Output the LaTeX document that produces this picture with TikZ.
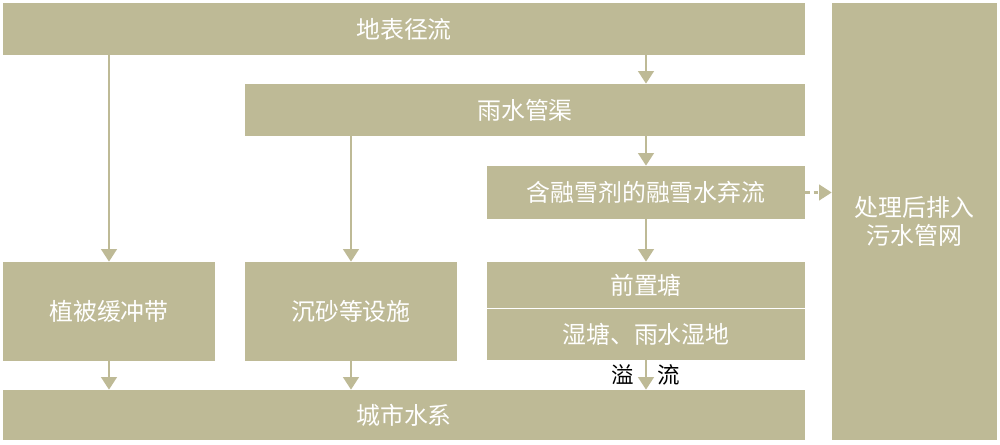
\documentclass[tikz,border=0pt]{standalone}
\usepackage{fontspec}
\setmainfont{Noto Sans CJK SC}
\usetikzlibrary{arrows.meta}
\definecolor{tan}{RGB}{190,186,150}
\tikzset{
  blk/.style={fill=tan,draw=none,text=white,font=\fontsize{17}{20}\selectfont,align=center},
  flow/.style={draw=tan,line width=2pt,-{Triangle[length=9pt,width=11pt]}}
}
\begin{document}
\begin{tikzpicture}[x=0.025cm,y=-0.025cm]
    \useasboundingbox (0,0) rectangle (1000,445);
    % boxes
    \node[blk,minimum width=802*0.025cm,minimum height=52*0.025cm] (runoff) at (404,29) {地表径流};
    \node[blk,minimum width=560*0.025cm,minimum height=52*0.025cm] (pipe) at (525,110) {雨水管渠};
    \node[blk,minimum width=318*0.025cm,minimum height=53*0.025cm] (melt) at (646,192.5) {含融雪剂的融雪水弃流};
    \node[blk,minimum width=165*0.025cm,minimum height=437*0.025cm] (sewer) at (914.5,221.5) {处理后排入\\污水管网};
    \node[blk,minimum width=212*0.025cm,minimum height=99*0.025cm] (buffer) at (109,311.5) {植被缓冲带};
    \node[blk,minimum width=212*0.025cm,minimum height=99*0.025cm] (grit) at (351,311.5) {沉砂等设施};
    \node[blk,minimum width=318*0.025cm,minimum height=46*0.025cm] (pond) at (646,285) {前置塘};
    \node[blk,minimum width=318*0.025cm,minimum height=51*0.025cm] (wet) at (646,334.5) {湿塘、雨水湿地};
    \node[blk,minimum width=802*0.025cm,minimum height=50*0.025cm] (river) at (404,415) {城市水系};
    % connectors
    \draw[flow] (runoff.south -| buffer.north) -- (buffer.north);
    \draw[flow] (runoff.south -| pond.north) -- (pipe.north -| pond.north);
    \draw[flow] (pipe.south -| grit.north) -- (grit.north);
    \draw[flow] (pipe.south -| melt.north) -- (melt.north);
    \draw[flow] (melt.south) -- (pond.north);
    \draw[flow,dashed] (melt.east) -- (sewer.west |- melt.east);
    \draw[flow] (buffer.south) -- (river.north -| buffer.south);
    \draw[flow] (grit.south) -- (river.north -| grit.south);
    \draw[flow] (wet.south) -- node[left,text=black,font=\fontsize{16}{18}\selectfont,xshift=-4pt]{溢} node[right,text=black,font=\fontsize{16}{18}\selectfont,xshift=4pt]{流} (river.north -| wet.south);
\end{tikzpicture}
\end{document}
